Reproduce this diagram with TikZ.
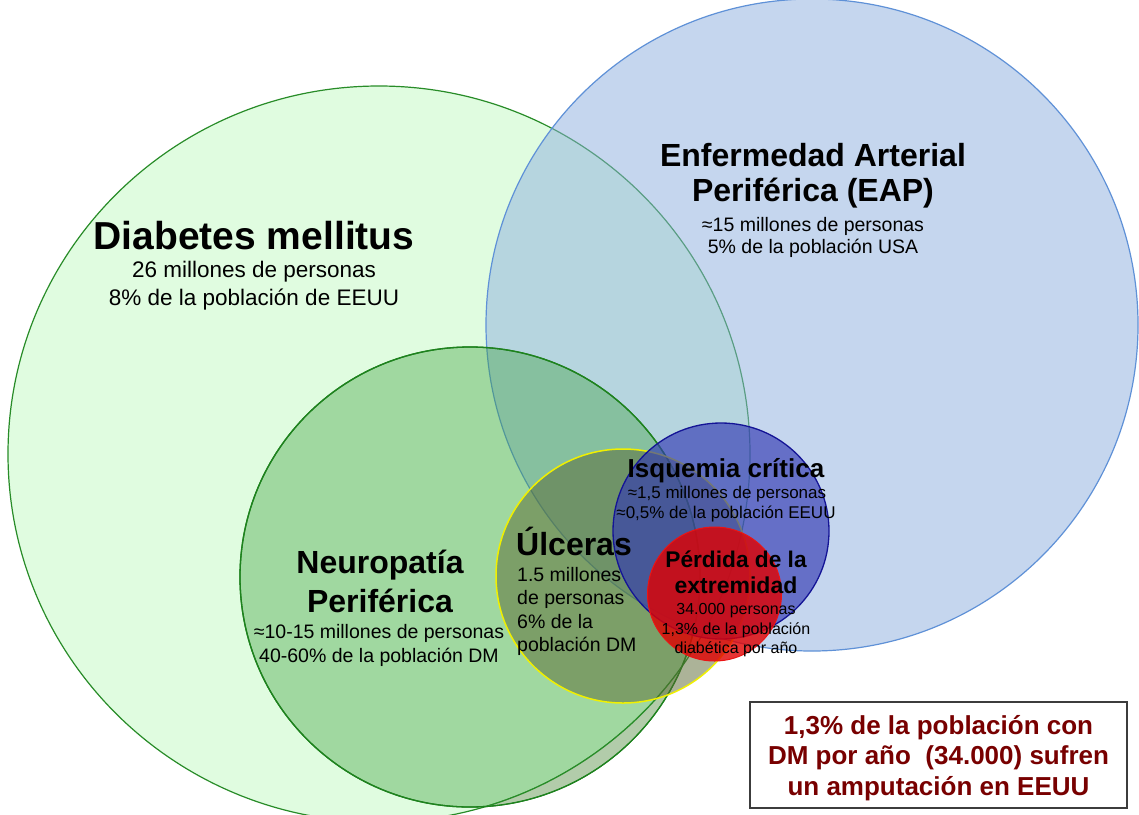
\documentclass[tikz,border=0pt]{standalone}
\usepackage{fontspec}
\setmainfont{Liberation Sans}
\newcommand{\fsz}[2]{\fontsize{#1}{#2}\selectfont}
\definecolor{dmfill}{RGB}{224,252,224}
\definecolor{dmline}{RGB}{40,140,40}
\definecolor{eapfill}{RGB}{141,175,223}
\definecolor{eapline}{RGB}{95,145,215}
\definecolor{nefill}{RGB}{64,162,64}
\definecolor{neline}{RGB}{30,130,30}
\definecolor{negray}{RGB}{178,204,170}
\definecolor{ulfill}{RGB}{90,104,50}
\definecolor{ulline}{RGB}{240,240,0}
\definecolor{isfill}{RGB}{50,57,179}
\definecolor{isline}{RGB}{20,20,150}
\definecolor{pefill}{RGB}{225,0,0}
\definecolor{peline}{RGB}{235,20,20}
\definecolor{boxtext}{RGB}{120,0,0}
\definecolor{boxline}{RGB}{60,60,60}
\begin{document}
\begin{tikzpicture}[x=1pt,y=-1pt,
  lbl/.style={anchor=base, inner sep=0pt, text=black},
  lblL/.style={anchor=base west, inner sep=0pt, text=black},
  dmset/.style={fill=dmfill, draw=dmline, line width=1.2pt},
  eapset/.style={fill=eapfill, fill opacity=0.5, draw=eapline, line width=1.2pt},
  neset/.style={fill=nefill, fill opacity=0.4, draw=neline, line width=1.3pt},
  ulset/.style={fill=ulfill, fill opacity=0.5, draw=ulline, line width=1.5pt},
  isset/.style={fill=isfill, fill opacity=0.65, draw=isline, line width=1.3pt},
  peset/.style={fill=pefill, fill opacity=0.8, draw=peline, line width=1pt},
  notebox/.style={draw=boxline, line width=1.2pt, fill=white, minimum width=377pt, minimum height=106pt, inner sep=0pt}
]
\useasboundingbox (0,0) rectangle (1139,814);
\fill[white] (0,0) rectangle (1139,814);

% sets
\path[dmset] (379,454) ellipse [x radius=371, y radius=368];
\path[eapset] (812,325) circle [radius=326];
\path[neset] (470,577) circle [radius=230];
\begin{scope}
  \clip (470,577) circle [radius=229.3];
  \fill[negray, even odd rule] (0,0) rectangle (1139,900) (379,454) ellipse [x radius=371, y radius=368];
  \draw[dmline, line width=1.2pt] (379,454) ellipse [x radius=371, y radius=368];
\end{scope}
\draw[neline, line width=1.3pt] (470,577) circle [radius=230];
\path[ulset] (623,576) circle [radius=127];
\path[isset] (721,531) circle [radius=108];
\path[peset] (714.5,594) circle [radius=67];

% Diabetes mellitus
\node[lbl, font={\bfseries\fsz{39}{44}}] (dmT) at (254,249) {Diabetes mellitus};
\node[lbl, font={\fsz{22.5}{27}}] (dm1) at (254,277) {26 millones de personas};
\node[lbl, font={\fsz{22.5}{27}}] (dm2) at (254,305) {8\% de la población de EEUU};

% EAP
\node[lbl, font={\bfseries\fsz{32}{37}}] (eapT1) at (813,166) {Enfermedad Arterial};
\node[lbl, font={\bfseries\fsz{32}{37}}] (eapT2) at (813,201) {Periférica (EAP)};
\node[lbl, font={\fsz{19.5}{22}}] (eap1) at (813,231) {≈15 millones de personas};
\node[lbl, font={\fsz{19.5}{22}}] (eap2) at (813,253) {5\% de la población USA};

% Neuropatia
\node[lbl, font={\bfseries\fsz{32}{37}}] (neT1) at (380,573) {Neuropatía};
\node[lbl, font={\bfseries\fsz{32}{37}}] (neT2) at (380,612) {Periférica};
\node[lbl, font={\fsz{19.5}{23}}] (ne1) at (379,638) {≈10-15 millones de personas};
\node[lbl, font={\fsz{19.5}{23}}] (ne2) at (379,662) {40-60\% de la población DM};

% Ulceras
\node[lblL, font={\bfseries\fsz{32}{37}}] (ulT) at (516,555) {Úlceras};
\node[lblL, font={\fsz{19.5}{23}}] (ul1) at (517,581) {1.5 millones};
\node[lblL, font={\fsz{19.5}{23}}] (ul2) at (517,604.5) {de personas};
\node[lblL, font={\fsz{19.5}{23}}] (ul3) at (517,628) {6\% de la};
\node[lblL, font={\fsz{19.5}{23}}] (ul4) at (517,651.5) {población DM};

% Isquemia critica
\node[lbl, font={\bfseries\fsz{26}{30}}] (isT) at (726,477) {Isquemia crítica};
\node[lbl, font={\fsz{17}{20}}] (is1) at (727,498) {≈1,5 millones de personas};
\node[lbl, font={\fsz{17}{20}}] (is2) at (726,518) {≈0,5\% de la población EEUU};

% Perdida
\node[lbl, font={\bfseries\fsz{22.7}{26}}] (peT1) at (736,567) {Pérdida de la};
\node[lbl, font={\bfseries\fsz{23}{26}}] (peT2) at (736,593) {extremidad};
\node[lbl, font={\fsz{16}{19}}] (pe1) at (736,614) {34.000 personas};
\node[lbl, font={\fsz{16}{19}}] (pe2) at (736,634) {1,3\% de la población};
\node[lbl, font={\fsz{16}{19}}] (pe3) at (736,653) {diabética por año};

% note box
\node[notebox] (box) at (938.5,755) {};
\node[lbl, text=boxtext, font={\bfseries\fsz{26}{30}}] (bx1) at (938.5,734) {1,3\% de la población con};
\node[lbl, text=boxtext, font={\bfseries\fsz{26}{30}}] (bx2) at (938.5,764.5) {DM por año~~(34.000) sufren};
\node[lbl, text=boxtext, font={\bfseries\fsz{26}{30}}] (bx3) at (938.5,795) {un amputación en EEUU};
\end{tikzpicture}
\end{document}
